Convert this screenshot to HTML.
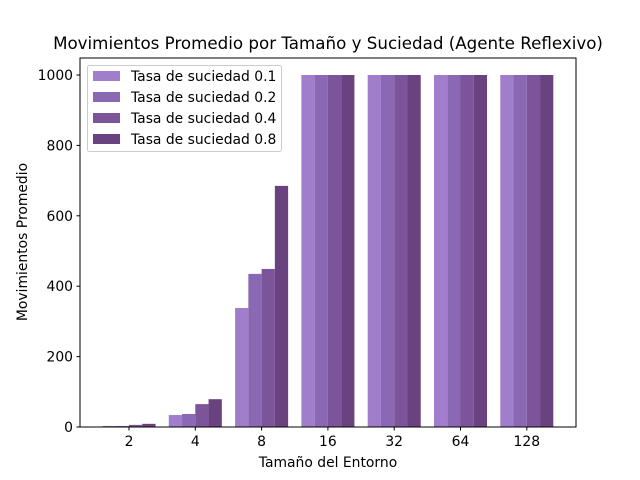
<!DOCTYPE html>
<html><head><meta charset="utf-8"><style>
body{margin:0;background:#fff;}
svg{display:block;font-family:"DejaVu Sans","Liberation Sans",sans-serif;}
</style></head><body>
<svg id="c" width="640" height="480"></svg>
<script>
const categories=["2","4","8","16","32","64","128"];
const seriesNames=["Tasa de suciedad 0.1","Tasa de suciedad 0.2","Tasa de suciedad 0.4","Tasa de suciedad 0.8"];
const s01=[3,34,338,1000,1000,1000,1000];
const s02=[3,37,435,1000,1000,1000,1000];
const s04=[6,65,449,1000,1000,1000,1000];
const s08=[9,79,685,1000,1000,1000,1000];
const yTicks=[0,200,400,600,800,1000];
const colors=["#a07ecb","#8b68b3","#7b5499","#6a4280"];
const series=[s01,s02,s04,s08];
const svg=document.getElementById('c');
const NS="http://www.w3.org/2000/svg";
function mk(t,a,txt){const e=document.createElementNS(NS,t);for(const k in a)e.setAttribute(k,a[k]);if(txt!==undefined)e.textContent=txt;svg.appendChild(e);return e;}
const L=80,R=576,T=58,B=427;
const step=66.3, x0=129;
function xc(i){return x0+i*step;}
function y(v){return B-v*(B-75)/1000;}
const bw=step*0.8/4;
series.forEach((s,si)=>{s.forEach((v,i)=>{
 const x=xc(i)-2*bw+si*bw;
 const r=mk('rect',{x:x,y:y(v),width:bw,height:B-y(v),fill:colors[si]});
 
 
});});
const fr=mk('rect',{x:L,y:T,width:R-L,height:B-T,fill:'none',stroke:'#000','stroke-width':1});


yTicks.forEach(v=>{
 mk('line',{x1:L-3.5,x2:L,y1:y(v),y2:y(v),stroke:'#000'});
 const t=mk('text',{x:L-7,y:y(v)+5,'text-anchor':'end','font-size':13.9},v);
 
 
});
categories.forEach((c,i)=>{
 mk('line',{x1:xc(i),x2:xc(i),y1:B,y2:B+3.5,stroke:'#000'});
 const t=mk('text',{x:xc(i),y:B+19,'text-anchor':'middle','font-size':13.9},c);
 
 
});
let e=mk('text',{x:328,y:49,'text-anchor':'middle','font-size':16.7},"Movimientos Promedio por Tamaño y Suciedad (Agente Reflexivo)");

e=mk('text',{x:328,y:467,'text-anchor':'middle','font-size':13.9},"Tamaño del Entorno");

e=mk('text',{x:27,y:242,'text-anchor':'middle','font-size':13.9,transform:'rotate(-90 27 242)'},"Movimientos Promedio");

const lg=mk('rect',{x:87.5,y:65.5,width:194,height:86,rx:2,fill:'#fff','fill-opacity':0.8,stroke:'#ccc'});

seriesNames.forEach((n,i)=>{
 const yy=71+i*21;
 mk('rect',{x:93,y:yy,width:27,height:10,fill:colors[i]});
 const t=mk('text',{x:131,y:yy+10,'font-size':13.9},n);
 
 
});
</script>
</body></html>
